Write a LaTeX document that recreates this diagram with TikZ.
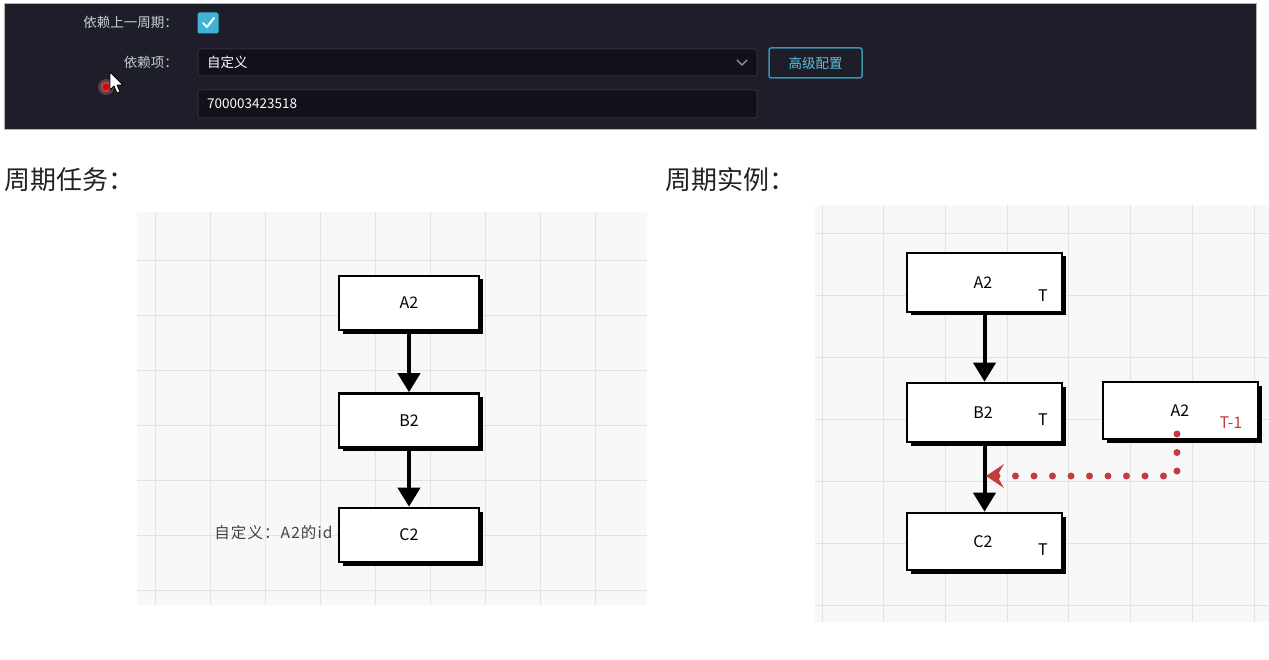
\documentclass[tikz,border=0pt]{standalone}
\usepackage{fontspec}
\setmainfont{Noto Sans CJK SC}
\newfontfamily\notefont[LetterSpace=7]{Noto Sans CJK SC}
\usetikzlibrary{arrows.meta,shadows,positioning}
\definecolor{panelbg}{HTML}{1D1E29}
\definecolor{fieldbg}{HTML}{111219}
\definecolor{fieldln}{HTML}{2E313C}
\definecolor{lbl}{HTML}{C9CDD6}
\definecolor{cyanc}{HTML}{3DB4D6}
\definecolor{btnln}{HTML}{3A93AE}
\definecolor{gridbg}{HTML}{F8F8F8}
\definecolor{gridln}{HTML}{E3E3E3}
\definecolor{redc}{HTML}{C43D3D}
\definecolor{txt}{HTML}{222222}
\tikzset{
  flowbox/.style={draw=black, line width=2.6pt, fill=white, minimum width=140pt, minimum height=54pt,
    inner sep=0pt, font=\fontsize{16}{18}\selectfont,
    drop shadow={shadow xshift=3.5pt, shadow yshift=-3.5pt, fill=black, opacity=1}},
  flowarrow/.style={line width=4pt, -{Triangle[width=22pt,length=19pt]}},
  redarrow/.style={redc, line width=7pt, line cap=round, dash pattern=on 0pt off 18.5pt,
    -{Stealth[width=24pt,length=18pt,inset=7pt,line width=0pt,fill=redc]}},
  fieldbox/.style={draw=fieldln, line width=1pt, fill=fieldbg, rounded corners=2pt},
  formlbl/.style={text=lbl, font=\fontsize{13.5}{15}\selectfont, anchor=east, inner sep=0pt},
  fieldtxt/.style={text=white, font=\fontsize{13.5}{15}\selectfont, anchor=west, inner sep=0pt},
  heading/.style={text=txt, font=\fontsize{26}{28}\selectfont, anchor=west, inner sep=0pt},
  tmark/.style={font=\fontsize{16}{18}\selectfont, inner sep=0pt},
}
\begin{document}
\begin{tikzpicture}[x=1pt,y=-1pt]
\useasboundingbox (0,0) rectangle (1269,660);
\fill[white] (0,0) rectangle (1269,660);
% ---------- dark form panel ----------
\draw[fill=panelbg, draw=gray!60, line width=0.8pt] (4,3) rectangle (1256,129);
\node[formlbl] (l1) at (178,22) {依赖上一周期：};
\node[fill=cyanc, rounded corners=2pt, minimum width=21pt, minimum height=21pt, inner sep=0pt] (chk) at (208,23) {};
\draw[white, line width=2pt, line cap=round, line join=round] ([shift={(-5,0)}]chk.center) -- ([shift={(-1,4)}]chk.center) -- ([shift={(6,-5)}]chk.center);
\node[formlbl] (l2) at (178,62) {依赖项：};
\node[fieldbox, minimum width=559pt, minimum height=27pt, inner sep=0pt] (sel) at (477.5,62.5) {};
\node[fieldtxt] (selt) at (207,62.5) {自定义};
\draw[gray!80, line width=1.3pt, line cap=round] (737,60) -- (742,65) -- (747,60);
\node[draw=btnln, line width=1.5pt, rounded corners=2pt, minimum width=93pt, minimum height=30pt, inner sep=0pt,
  text=cyanc!85!white, font=\fontsize{13.5}{15}\selectfont] (btn) at (815.5,63) {高级配置};
\node[fieldbox, minimum width=559pt, minimum height=28pt, inner sep=0pt] (inp) at (477.5,104) {};
\node[fieldtxt] (inpt) at (207,104) {700003423518};
% cursor with red click marker
\fill[red!50, opacity=0.3] (106,87) circle (8);
\fill[red!60, opacity=0.4] (106,87) circle (5.5);
\fill[red!85!black] (106,87) circle (3.2);
\draw[black, fill=white, line width=0.8pt, line join=round]
  (110,72) -- (110,90) -- (114,86) -- (117,93) -- (120,92) -- (117,85) -- (123,85) -- cycle;
% ---------- headings ----------
\node[heading] (h1) at (4,180) {周期任务：};
\node[heading] (h2) at (665,180) {周期实例：};
% ---------- left grid panel ----------
\fill[gridbg] (137,212) rectangle (647,605);
\foreach \gx in {155,210,...,640} \draw[gridln, line width=0.8pt] (\gx,212) -- (\gx,605);
\foreach \gy in {260,315,...,600} \draw[gridln, line width=0.8pt] (137,\gy) -- (647,\gy);
\node[flowbox] (a2) at (409,303) {A2};
\node[flowbox] (b2) at (409,420.5) {B2};
\node[flowbox] (c2) at (409,535) {C2};
\draw[flowarrow] (a2) -- (b2);
\draw[flowarrow] (b2) -- (c2);
\node[left=5pt of c2.west, anchor=east, text=txt!85!white, font=\notefont\fontsize{15.5}{17}\selectfont, inner sep=0pt, yshift=2pt] (note) {自定义：A2的id};
% ---------- right grid panel ----------
\fill[gridbg] (815,205) rectangle (1269,622);
\foreach \gx in {822,883.7,...,1269} \draw[gridln, line width=0.8pt] (\gx,205) -- (\gx,622);
\foreach \gy in {233,295,...,620} \draw[gridln, line width=0.8pt] (815,\gy) -- (1269,\gy);
\node[flowbox, minimum width=155pt, minimum height=59pt] (ra2) at (984.5,282.5) {};
\node[flowbox, minimum width=155pt, minimum height=59pt] (rb2) at (984.5,412.5) {};
\node[flowbox, minimum width=155pt, minimum height=57pt] (rc2) at (984.5,541.5) {};
\node[flowbox, minimum width=155pt, minimum height=57pt] (pa2) at (1180.5,410.5) {};
\node[tmark] (ra2t) at (983,283) {A2};
\node[tmark] (ra2T) at (1043,296) {T};
\node[tmark] (rb2t) at (983,413) {B2};
\node[tmark] (rb2T) at (1043,420) {T};
\node[tmark] (rc2t) at (983,542) {C2};
\node[tmark] (rc2T) at (1043,550) {T};
\node[tmark] (pa2t) at (1180,411) {A2};
\node[tmark, text=redc] (pa2T) at (1231,423) {T-1};
\draw[flowarrow] (ra2) -- (rb2);
\draw[flowarrow] (rb2) -- (rc2);
\coordinate (rstart) at (1177,434);
\coordinate (rbend) at (1177,476);
\coordinate (rend) at (986,476);
\draw[redarrow] (rstart) -- (rbend) -- (rend);
\end{tikzpicture}
\end{document}
